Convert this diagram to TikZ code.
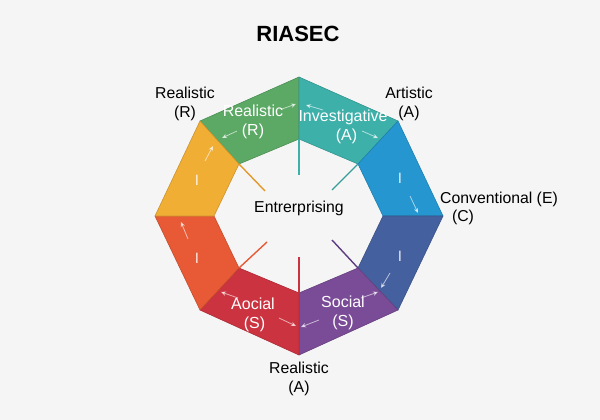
\documentclass[tikz,border=0pt]{standalone}
\usepackage{fontspec}
\setmainfont{Liberation Sans}
\usetikzlibrary{arrows.meta}
\definecolor{bg}{HTML}{F5F5F5}
\definecolor{cgreen}{HTML}{5BA965}
\definecolor{cteal}{HTML}{3DB0AA}
\definecolor{cblue}{HTML}{2596CF}
\definecolor{cdblue}{HTML}{45609F}
\definecolor{cpurple}{HTML}{7A4B96}
\definecolor{cred}{HTML}{CC3340}
\definecolor{corange}{HTML}{E85A35}
\definecolor{cyellow}{HTML}{F0AE35}
\definecolor{spkyellow}{HTML}{E39A2C}
\definecolor{spkpurple}{HTML}{5E3C80}
\begin{document}
\begin{tikzpicture}[x=1pt,y=-1pt,
  seg/.style={line width=0.6pt,line join=round},
  lbl/.style={font=\fontsize{15.8}{19}\selectfont,align=center,inner sep=0pt,text=black},
  wlbl/.style={font=\fontsize{16}{19.5}\selectfont,align=center,inner sep=0pt,text=white},
  bar/.style={font=\fontsize{15}{18}\selectfont,inner sep=0pt,text=white,text opacity=0.85},
  spoke/.style={line width=1.4pt},
  minarr/.style={-{Stealth[length=5pt,width=4.5pt]},white,opacity=0.6,line width=0.8pt}]
\useasboundingbox (0,0) rectangle (600,420);
\fill[bg] (0,0) rectangle (600,420);
% outer and inner vertices
\coordinate (O1) at (299,77);
\coordinate (O2) at (398,121);
\coordinate (O3) at (443,216);
\coordinate (O4) at (398,310);
\coordinate (O5) at (299,355);
\coordinate (O6) at (200,310);
\coordinate (O7) at (155,216);
\coordinate (O8) at (200,121);
\coordinate (I1) at (299,139);
\coordinate (I2) at (358,164);
\coordinate (I3) at (383,216);
\coordinate (I4) at (358,268);
\coordinate (I5) at (299,293);
\coordinate (I6) at (239,268);
\coordinate (I7) at (214,216);
\coordinate (I8) at (239,164);
% segments
\filldraw[seg,fill=cgreen,draw=cgreen!85!black] (O8) -- (O1) -- (I1) -- (I8) -- cycle;
\filldraw[seg,fill=cteal,draw=cteal!85!black] (O1) -- (O2) -- (I2) -- (I1) -- cycle;
\filldraw[seg,fill=cblue,draw=cblue!85!black] (O2) -- (O3) -- (I3) -- (I2) -- cycle;
\filldraw[seg,fill=cdblue,draw=cdblue!85!black] (O3) -- (O4) -- (I4) -- (I3) -- cycle;
\filldraw[seg,fill=cpurple,draw=cpurple!85!black] (O4) -- (O5) -- (I5) -- (I4) -- cycle;
\filldraw[seg,fill=cred,draw=cred!85!black] (O5) -- (O6) -- (I6) -- (I5) -- cycle;
\filldraw[seg,fill=corange,draw=corange!85!black] (O6) -- (O7) -- (I7) -- (I6) -- cycle;
\filldraw[seg,fill=cyellow,draw=cyellow!85!black] (O7) -- (O8) -- (I8) -- (I7) -- cycle;
% spokes
\coordinate (S8) at (265,191);
\coordinate (S1) at (299,175);
\coordinate (S2) at (332,190);
\coordinate (S6) at (267,242);
\coordinate (S5) at (299,257);
\coordinate (S4) at (332,240);
\draw[spoke,spkyellow] (I8) -- (S8);
\draw[spoke,cteal] (I1) -- (S1);
\draw[spoke,cteal!90!black] (I2) -- (S2);
\draw[spoke,corange] (I6) -- (S6);
\draw[spoke,cred] (I5) -- (S5);
\draw[spoke,spkpurple] (I4) -- (S4);
% small arrows
\coordinate (a1s) at (282,109); \coordinate (a1e) at (296,104);
\coordinate (a2s) at (237,131); \coordinate (a2e) at (222,138);
\coordinate (a3s) at (323,110); \coordinate (a3e) at (306,105);
\coordinate (a4s) at (362,131); \coordinate (a4e) at (378,138);
\coordinate (a5s) at (205,161); \coordinate (a5e) at (213,146);
\coordinate (a6s) at (410,196); \coordinate (a6e) at (418,213);
\coordinate (a7s) at (188,239); \coordinate (a7e) at (181,222);
\coordinate (a8s) at (390,273); \coordinate (a8e) at (381,288);
\coordinate (a9s) at (238,298); \coordinate (a9e) at (221,292);
\coordinate (a10s) at (279,318); \coordinate (a10e) at (296,326);
\coordinate (a11s) at (319,320); \coordinate (a11e) at (301,327);
\coordinate (a12s) at (361,298); \coordinate (a12e) at (378,292);
\foreach \k in {1,...,12} \draw[minarr] (a\k s) -- (a\k e);
% bar marks
\node[bar] (b1) at (197,180) {I};
\node[bar] (b2) at (400,178) {I};
\node[bar] (b3) at (197,258) {I};
\node[bar] (b4) at (400,256) {I};
% inner labels
\node[wlbl] (tR) at (253,122) {Realistic\\(R)};
\node[wlbl] (tI) at (343,127) {Investigative\\\hspace*{7pt}(A)};
\node[wlbl] (tA) at (253,315) {Aocial\\\hspace*{3pt}(S)};
\node[wlbl] (tS) at (343,313) {Social\\(S)};
\node[lbl] (ctr) at (299,208) {Entrerprising};
% outer labels
\node[font=\fontsize{22}{26}\selectfont\bfseries,inner sep=0pt] (title) at (298,34) {RIASEC};
\node[lbl] (lR) at (185,104) {Realistic\\(R)};
\node[lbl] (lA) at (409,104) {Artistic\\(A)};
\node[lbl] (lC1) at (499,199) {Conventional (E)};
\node[lbl] (lC2) at (463,217) {(C)};
\node[lbl] (lB) at (299,379) {Realistic\\(A)};
\end{tikzpicture}
\end{document}
